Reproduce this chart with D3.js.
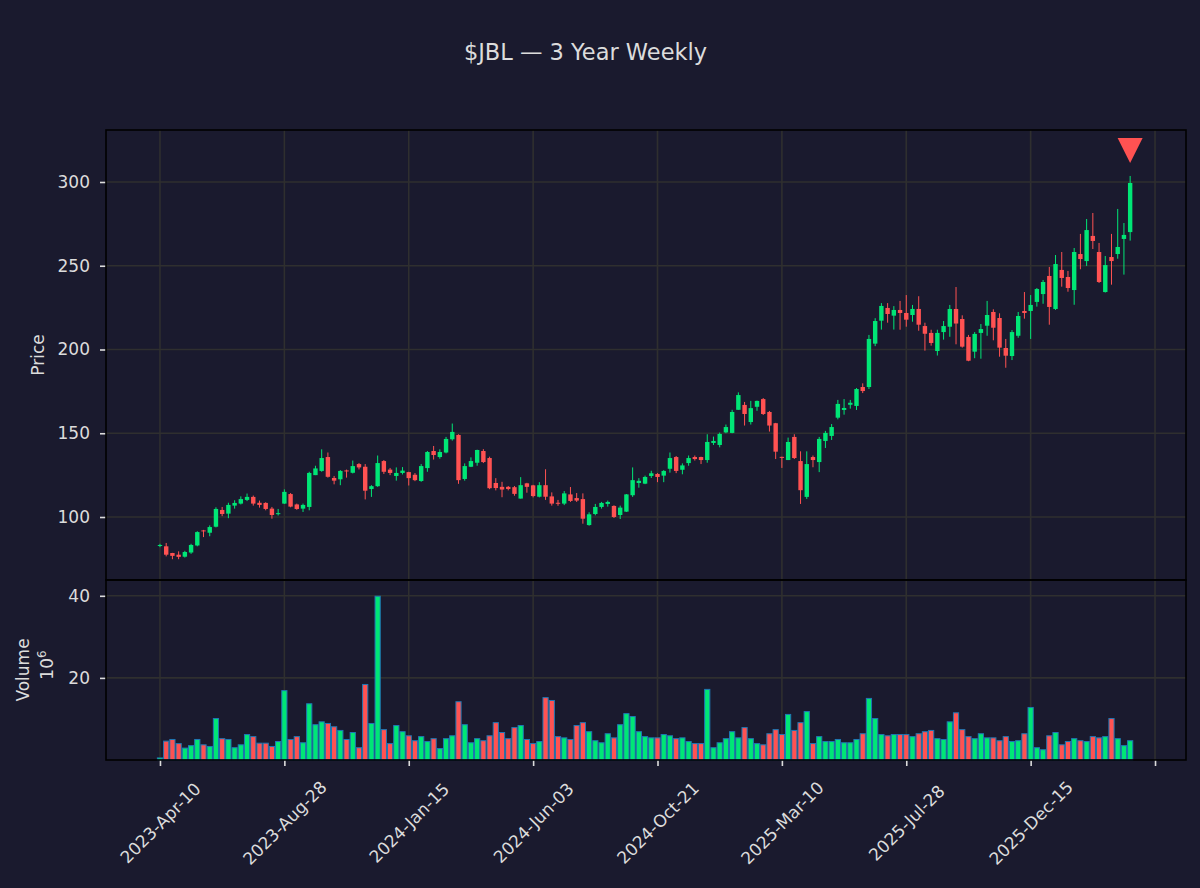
<!DOCTYPE html>
<html>
<head>
<meta charset="utf-8">
<script src="https://cdn.jsdelivr.net/npm/d3@7"></script>
<style>
  body { margin: 0; background: #1a1a2e; }
  svg text { font-family: "DejaVu Sans", sans-serif; }
</style>
</head>
<body>
<svg id="chart" width="1200" height="888"></svg>
<script>
// dati settimanali $JBL, indice 0 = 2023-Apr-10
const opens = [83,82.5,78.5,77.5,76.3,78.8,83,92,90.6,94.2,
104.2,102,106.8,108,110.2,112,108.5,108.4,105,101.8,
108,113.7,107.5,105,106,125,127.5,135.8,123.3,122.5,
127.8,126.4,131.6,130,116.7,118.4,133.4,128.3,124.5,126.3,
126.8,125.2,121.5,129.2,139.4,135.8,138.5,146.4,149,122.7,
130,132.4,139.4,135.2,120.3,118,118,117.8,111,120.1,
118.9,112.1,119,112.3,108.5,108,113.5,111.3,110.7,95.2,
101.8,106,107.8,106.6,101.2,103.2,113,120.3,119.9,124.5,
125.7,124.7,128.8,135.8,128.2,132.2,135.8,135.8,134,144.2,
143,150.5,150.2,164,166.9,156.7,165.8,170.4,162.7,156,
135.9,134,147.8,133.4,112,135.8,132.8,145.4,148.4,159.3,
163.9,167,166.3,177.6,177.6,203.5,217.2,224.8,220.2,223.6,
221.8,220.6,224.2,214,209.9,199.1,210.4,213.6,224.2,218.2,
207.5,198.7,209.9,214.2,222.4,218.8,200.9,196.1,208.2,223,
223,228.4,233.1,243.9,224.2,247.5,243.3,235.5,257,252.8,
267.8,258.2,234.3,255.2,257,266,270.1]

const highs = [84,84.5,78.6,79.5,79.8,84,91.5,92.3,95,105.8,
106,108.5,110,112.3,114,112.8,109.8,108.8,106,104.8,
116.5,114.3,108,108,127,130.6,140.4,138.5,124.5,128,
128.3,133.7,132.2,131.6,119,136.7,134,129.3,129.6,129.8,
127,126.2,131.6,139.4,142.4,140.4,147.8,155.8,149.4,132,
135.6,140.2,140.5,136,123.2,121,118.5,118.5,123.8,120.4,
119.2,120.8,128.5,114.7,110.2,115.5,117.9,114.3,114.1,102.8,
107.8,109,109.8,107,106.8,113.7,129.6,123.2,124.7,127.6,
126.2,128,138.5,136.4,132,136.7,136.7,136,149.4,148,
150.4,155.2,164,174.4,168.7,169.3,169.5,171,163.3,156.2,
136,147.4,149.4,139.2,139.2,136.7,147.8,151.4,155.5,169.9,
170.4,169.9,177,179.8,208.7,218.7,227.7,227.7,225.9,229,
232.5,226.6,231.8,216,211.8,211.8,217,226.6,237.3,220.4,
208.7,210.4,215.2,229,224,221.6,206.3,211.6,222.4,234.3,
232.5,236.7,241.5,249.3,256.4,258.2,246.9,260.6,269,277.9,
281.5,263.6,255.8,269,283.9,275.5,303.6]

const lows = [82,76.5,74.8,74.8,75.8,78,82.5,88,88.5,93.8,
100.5,99.3,105,107.5,109.5,106.8,105.6,104,99,100.9,
107.8,105.8,104.3,103,104,125,127,123.5,119.5,119,
123.5,126,128.4,110.5,112,118,125.7,125,121.7,125.4,
118.8,121.4,121,127,134.3,134.8,138,145.6,119.8,121.7,
129.8,130.6,132.2,116.6,115.9,111.8,115.9,112.7,111,114.5,
111.7,111.7,110.2,106.8,106.7,107.1,109,109,96,94.8,
101,105,106.2,99.4,98.8,103,112,117.5,119.6,123.3,
120.8,120.8,126.5,126.2,125.5,130.6,133.7,131.6,132.4,143,
141.6,150,150,164,154.6,155.2,163.4,160.9,151,134.6,
129.3,134,134.6,107.8,110.8,129.7,126.8,141.2,146,158.3,
161.1,164.7,163.9,174,176.4,202,211.9,216,211.9,211.8,
213.6,216.6,211.2,199.3,202.3,196.4,205.9,207.6,203.1,201.1,
193,194.8,194.5,208.2,205.5,195.7,189.1,193.7,207,218.4,
206.3,225.6,227.3,214.8,223.6,237.5,234.5,226.7,247.9,249.9,
260,239.7,234,238.7,254.2,244.7,265]

const closes = [83.3,77.5,76.8,76.2,79.1,83.3,91,91.4,94,104.8,
101.8,107.2,108.4,110.7,112,108,107.2,104.8,101.2,102.3,
115,106.2,104.8,107.2,126.3,129,135.2,124,121.7,127.5,
127.2,130.4,129.6,115.7,118.4,132.2,127,126.3,126.3,127.7,
123.2,122,130.4,138.8,137,138.8,146.6,150.8,122,130.4,
133.4,140,132.8,117.2,117.3,116.4,116.7,113.8,119,118,
112.5,119,112.1,108,108,114.1,109.6,109.8,99,101.6,
106,108.4,109,100,105.6,113.5,122,121.6,123.9,126.1,
123.9,127.5,135.2,127.5,130.8,135.2,134.6,134,144.8,145.4,
149.6,153.7,162.7,172.8,161.5,165,169.3,161.5,154.6,139,
135.4,144.8,135.2,116,131.6,134,146.6,150.2,153.7,167.5,
165.1,168.2,176.4,175.2,206.3,217,226,221.2,223.6,221.8,
217.8,224.2,214.8,209.4,203.9,209.9,214,224.2,215.5,201.7,
193.3,209.3,212.2,220.6,213,201.1,196.3,210.4,220,221.8,
226.6,236.1,240.3,225.4,251,242.7,236.7,258.2,254,271.3,
264.8,240.3,250.4,252.8,261.2,268.4,299.4]

// volume in milioni
const volumes = [0.5,4.6,5.0,4.0,2.9,3.5,5.0,3.7,3.3,10.1,
5.2,5.0,3.0,3.7,6.2,5.7,4.1,4.1,3.3,4.5,
16.9,5.0,5.7,4.2,13.7,8.6,9.3,8.9,8.1,7.2,
5.0,6.7,3.0,18.4,8.9,39.9,7.4,4.0,8.4,6.9,
5.9,4.7,5.7,4.5,5.2,2.8,5.2,5.9,14.2,8.6,
4.2,5.2,4.7,5.9,9.1,6.7,5.2,7.9,8.4,5.0,
4.0,4.5,15.2,14.5,5.7,5.4,5.0,8.4,9.1,6.9,
4.7,4.2,6.4,5.4,8.6,11.3,10.6,6.9,5.7,5.4,
5.4,6.2,5.9,5.2,5.4,4.5,4.0,4.0,17.2,3.0,
4.2,5.2,6.9,5.4,7.9,5.2,4.0,3.7,6.4,7.4,
6.2,11.1,7.2,9.1,11.8,4.0,5.7,4.5,4.5,5.0,
4.2,4.2,5.0,6.4,15.0,10.1,6.2,5.9,6.2,6.2,
6.2,5.7,6.4,6.9,7.2,5.2,5.0,9.3,11.5,7.4,
5.7,5.2,6.4,5.4,5.4,4.7,5.7,4.5,4.7,6.4,
12.8,3.0,2.5,5.9,6.7,3.7,4.5,5.2,4.7,4.5,
5.7,5.4,5.7,10.1,5.2,3.5,4.7]

// etichette asse x (ogni 20 settimane)
const xTickIdx = [0, 20, 40, 60, 80, 100, 120, 140, 160]
const xTickLabels = ['2023-Apr-10','2023-Aug-28','2024-Jan-15','2024-Jun-03','2024-Oct-21','2025-Mar-10','2025-Jul-28','2025-Dec-15','']
const priceTicks = [100, 150, 200, 250, 300]
const volTicks = [20, 40]

// segnale (triangolo) sull'ultima candela
const signalIdx = 156
const signalPrice = highs[156] * 1.05

const svg = d3.select('#chart')

const bg = '#1a1a2e'
const textColor = '#dcdcdc'
const gridColor = '#2f2f2f'
const upColor = '#00e676'
const downColor = '#ff5252'

const left = 106, right = 1186
const priceTop = 130, priceBottom = 580, volBottom = 760

svg.append('rect').attr('width', 1200).attr('height', 888).style('fill', bg)

const data = opens.map((o, i) => ({ i: i, o: o, h: highs[i], l: lows[i], c: closes[i], v: volumes[i] }))

const xScale = d3.scaleLinear()
	.domain([-8.68, 164.98])
	.range([left, right])

const yScale = d3.scaleLinear()
	.domain([62.39, 331.04])
	.range([priceBottom, priceTop])

const vScale = d3.scaleLinear()
	.domain([0, 43.85])
	.range([volBottom, priceBottom])

const colorOf = d => d.c >= d.o ? upColor : downColor

// griglia
const grid = svg.append('g')
grid.selectAll('line.vx')
	.data(xTickIdx)
	.enter()
	.append('line')
	.attr('x1', d => xScale(d)).attr('x2', d => xScale(d))
	.attr('y1', priceTop).attr('y2', volBottom)
	.style('stroke', gridColor).style('stroke-width', 1.6)
grid.selectAll('line.hp')
	.data(priceTicks)
	.enter()
	.append('line')
	.attr('x1', left).attr('x2', right)
	.attr('y1', d => yScale(d)).attr('y2', d => yScale(d))
	.style('stroke', gridColor).style('stroke-width', 1.6)
grid.selectAll('line.hv')
	.data(volTicks)
	.enter()
	.append('line')
	.attr('x1', left).attr('x2', right)
	.attr('y1', d => vScale(d)).attr('y2', d => vScale(d))
	.style('stroke', gridColor).style('stroke-width', 1.6)

// candele: stoppini
svg.append('g')
	.selectAll('line')
	.data(data)
	.enter()
	.append('line')
	.attr('x1', d => xScale(d.i)).attr('x2', d => xScale(d.i))
	.attr('y1', d => yScale(d.h)).attr('y2', d => yScale(d.l))
	.style('stroke', colorOf)
	.style('stroke-width', 1)

// candele: corpi
const bodyW = 4.4
svg.append('g')
	.selectAll('rect')
	.data(data)
	.enter()
	.append('rect')
	.attr('x', d => xScale(d.i) - bodyW / 2)
	.attr('width', bodyW)
	.attr('y', d => yScale(Math.max(d.o, d.c)))
	.attr('height', d => Math.max(Math.abs(yScale(d.o) - yScale(d.c)), 1))
	.style('fill', colorOf)

// volumi
const barW = 5.2
svg.append('g')
	.selectAll('rect')
	.data(data)
	.enter()
	.append('rect')
	.attr('x', d => xScale(d.i) - barW / 2)
	.attr('width', barW)
	.attr('y', d => vScale(d.v))
	.attr('height', d => volBottom - vScale(d.v))
	.style('fill', colorOf)
	.style('stroke', '#1f77b4')
	.style('stroke-width', 1)

// triangolo rosso
const tx = xScale(signalIdx), ty = yScale(signalPrice)
svg.append('path')
	.attr('d', `M${tx - 12.5},${ty - 12.5} L${tx + 12.5},${ty - 12.5} L${tx},${ty + 12.5} Z`)
	.style('fill', downColor)

// assi y
const yAxis = d3.axisLeft(yScale).tickValues(priceTicks).tickSize(6).tickPadding(10)
svg.append('g')
	.attr('transform', `translate(${left}, 0)`)
	.call(yAxis)

const vAxis = d3.axisLeft(vScale).tickValues(volTicks).tickSize(6).tickPadding(10)
svg.append('g')
	.attr('transform', `translate(${left}, 0)`)
	.call(vAxis)

// asse x con etichette ruotate
const xAxis = d3.axisBottom(xScale)
	.tickValues(xTickIdx)
	.tickFormat((d, i) => xTickLabels[i])
	.tickSize(6)
const xTicks = svg.append('g')
	.attr('transform', `translate(0, ${volBottom})`)
	.call(xAxis)
xTicks.selectAll('.tick text')
	.attr('y', 0)
	.attr('dy', '0.35em')
	.attr('transform', 'translate(0, 63) rotate(-45)')
	.style('text-anchor', 'middle')

svg.selectAll('path.domain').style('stroke-width', 0)
svg.selectAll('.tick line').style('stroke', textColor).style('stroke-width', 1.6)
svg.selectAll('.tick text')
	.style('fill', textColor)
	.style('font-size', '17px')
	.style('font-family', '"DejaVu Sans", sans-serif')

// bordi dei pannelli
svg.append('rect')
	.attr('x', left).attr('y', priceTop)
	.attr('width', right - left).attr('height', priceBottom - priceTop)
	.style('fill', 'none').style('stroke', 'black').style('stroke-width', 1.6)
svg.append('rect')
	.attr('x', left).attr('y', priceBottom)
	.attr('width', right - left).attr('height', volBottom - priceBottom)
	.style('fill', 'none').style('stroke', 'black').style('stroke-width', 1.6)

// titolo
svg.append('text')
	.attr('x', 585.5).attr('y', 52)
	.attr('dominant-baseline', 'central')
	.style('text-anchor', 'middle')
	.style('fill', textColor)
	.style('font-size', '22.5px')
	.text('$JBL — 3 Year Weekly')

// etichette assi
svg.append('text')
	.attr('transform', 'translate(38, 355) rotate(-90)')
	.attr('dominant-baseline', 'central')
	.style('text-anchor', 'middle')
	.style('fill', textColor)
	.style('font-size', '17px')
	.text('Price')

svg.append('text')
	.attr('transform', 'translate(23, 670) rotate(-90)')
	.attr('dominant-baseline', 'central')
	.style('text-anchor', 'middle')
	.style('fill', textColor)
	.style('font-size', '17px')
	.text('Volume')

const exp = svg.append('text')
	.attr('transform', 'translate(47, 665) rotate(-90)')
	.attr('dominant-baseline', 'central')
	.style('text-anchor', 'middle')
	.style('fill', textColor)
	.style('font-size', '17px')
exp.append('tspan').text('10')
exp.append('tspan').attr('dy', '-0.45em').style('font-size', '12px').text('6')
</script>
</body>
</html>
